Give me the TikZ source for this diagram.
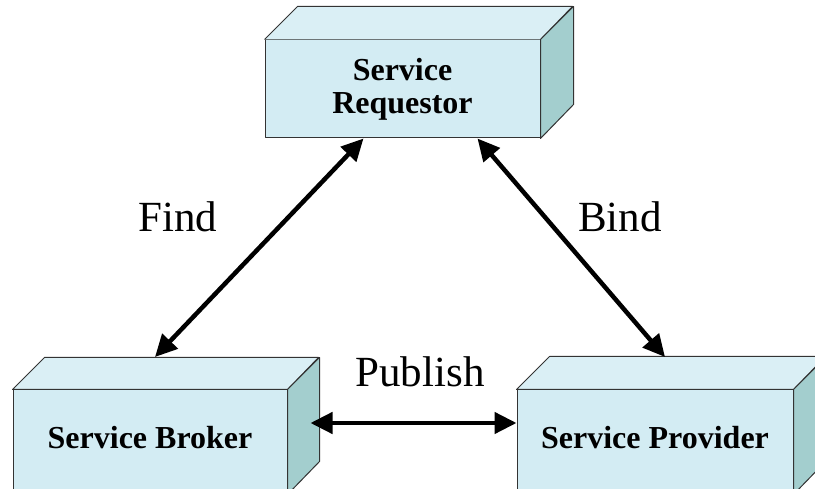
\documentclass[tikz,border=0pt]{standalone}
\usepackage{fontspec}
\setmainfont{Liberation Serif}
\usetikzlibrary{arrows.meta}
\definecolor{frontc}{HTML}{D3ECF3}
\definecolor{topc}{HTML}{DAEFF5}
\definecolor{sidec}{HTML}{A3CECE}
\definecolor{edgec}{HTML}{333333}
\begin{document}
\begin{tikzpicture}[x=1pt,y=-1pt,
  face/.style={draw=edgec,line width=1pt,line join=round},
  frontbox/.style={face,fill=frontc,inner sep=0pt,minimum width=275pt,minimum height=98pt,
    font=\fontsize{32}{33}\selectfont\bfseries,align=center},
  lbl/.style={font=\fontsize{43}{43}\selectfont,anchor=base,inner sep=0pt},
  link/.style={line width=4.5pt,{Triangle[length=22pt,width=21pt]}-{Triangle[length=22pt,width=21pt]}}]
\useasboundingbox (0,0) rectangle (815,489);
\clip (0,0) rectangle (815,489);
% Service Requestor
\node[frontbox] (req) at (402.5,89) {Service\\Requestor};
\fill[topc] (req.north west) -- ++(33,-33) -- ++(275,0) -- (req.north east) -- cycle;
\draw[face] (req.north west) -- ++(33,-33) -- ++(275,0) -- (req.north east);
\draw[face,fill=sidec] (req.north east) -- ++(33,-33) -- ++(0,98) -- (req.south east) -- cycle;
% Service Broker
\node[frontbox,minimum width=274pt,minimum height=104pt,text depth=0pt] (brk) at (150,442) {};
\node[font=\fontsize{32}{33}\selectfont\bfseries] (brkt) at (150,438) {Service Broker};
\draw[face,fill=topc] (brk.north west) -- ++(32,-32) -- ++(274,0) -- (brk.north east) -- cycle;
\draw[face,fill=sidec] (brk.north east) -- ++(32,-32) -- ++(0,104) -- (brk.south east) -- cycle;
% Service Provider
\node[frontbox,minimum width=276pt,minimum height=104pt] (prv) at (655,442) {};
\node[font=\fontsize{32}{33}\selectfont\bfseries] (prvt) at (655,438) {Service Provider};
\draw[face,fill=topc] (prv.north west) -- ++(33,-33) -- ++(276,0) -- (prv.north east) -- cycle;
\draw[face,fill=sidec] (prv.north east) -- ++(33,-33) -- ++(0,104) -- (prv.south east) -- cycle;
% connector ends
\coordinate (findA) at ([xshift=-39pt]req.south);
\coordinate (findB) at (155,357);
\coordinate (bindA) at ([xshift=75pt]req.south);
\coordinate (bindB) at (665,357);
\coordinate (pubA) at ([xshift=23pt,yshift=19pt]brk.east);
\coordinate (pubB) at ([yshift=19pt]prv.west);
\draw[link] (findB) -- (findA);
\draw[link] (bindA) -- (bindB);
\draw[link] (pubA) -- (pubB);
% labels
\node[lbl] (find) at (178,232) {Find};
\node[lbl] (bind) at (620,232) {Bind};
\node[lbl] (pub) at (420,387) {Publish};
\end{tikzpicture}
\end{document}
